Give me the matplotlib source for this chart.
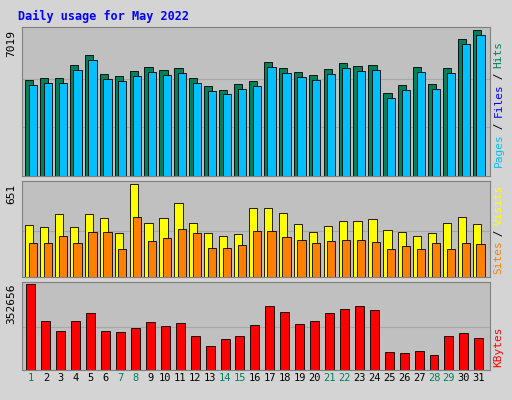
import matplotlib
matplotlib.use("Agg")
import matplotlib.pyplot as plt
import numpy as np

days = list(range(1, 32))
weekend = [1, 7, 8, 14, 15, 21, 22, 28, 29]
hits = [4632,4727,4727,5348,5825,4918,4823,5061,5252,5109,5205,4727,4345,4154,4441,4584,
        5491,5205,5013,4870,5157,5443,5300,5348,4011,4393,5252,4441,5205,6589,7019]
files = [4390,4490,4490,5110,5590,4680,4590,4820,5010,4870,4960,4490,4110,3920,4200,4350,
         5250,4960,4770,4630,4910,5200,5060,5110,3770,4150,5010,4200,4960,6350,6780]
visits = [364,350,441,350,441,413,308,651,378,413,518,378,308,287,301,483,483,448,371,315,
          357,392,392,406,329,315,287,308,378,420,371]
sites = [238,238,287,238,315,315,196,420,252,273,336,308,203,203,224,322,322,280,259,238,
         252,259,259,245,196,217,196,238,196,238,231]
kbytes = [352656,200950,159940,200950,233760,159940,155840,172240,196850,180440,192750,139430,
          98420,127130,139430,184550,262460,237860,188650,200950,233760,250160,262460,246060,
          73820,69720,77920,61520,139430,151740,131230]

fig = plt.figure(figsize=(5.12, 4.0), dpi=100)
fig.patch.set_facecolor('#D4D4D4')
x = np.array(days)
mono = 'DejaVu Sans Mono'

def setup(ax, ymax, label_max, lines):
    ax.set_facecolor('#C0C0C0')
    ax.set_xlim(0.4, 31.75)
    ax.set_ylim(0, ymax)
    ax.set_xticks([]); ax.set_yticks([])
    for l in lines:
        ax.axhline(l, color='#A8A8A8', lw=0.8, zorder=0)
    ax.text(-0.012, label_max / ymax, str(label_max), transform=ax.transAxes, rotation=90,
            ha='right', va='top', fontsize=8, family=mono)
    for s in ax.spines.values():
        s.set_color('#808080')

ax1 = fig.add_axes([0.043, 0.56, 0.914, 0.3725])
ymax1 = 7019 * 149 / 146
setup(ax1, ymax1, 7019, [7019 / 3, 7019 * 2 / 3])
ax1.bar(x - 0.12, hits, width=0.55, color='#00805C', edgecolor='black', lw=0.6)
ax1.bar(x + 0.12, files, width=0.55, color='#00C0FF', edgecolor='black', lw=0.6)

ax2 = fig.add_axes([0.043, 0.3075, 0.914, 0.24])
ymax2 = 651 * 96 / 93
setup(ax2, ymax2, 651, [651 / 2])
ax2.bar(x - 0.12, visits, width=0.55, color='#FFFF00', edgecolor='black', lw=0.6)
ax2.bar(x + 0.12, sites, width=0.55, color='#FF8000', edgecolor='black', lw=0.6)

ax3 = fig.add_axes([0.043, 0.075, 0.914, 0.22])
ymax3 = 352656 * 88 / 86
setup(ax3, ymax3, 352656, [352656 / 2])
ax3.bar(x, kbytes, width=0.6, color='#FF0000', edgecolor='black', lw=0.6)

for d in days:
    ax3.text(d, -0.03, str(d), transform=ax3.get_xaxis_transform(), ha='center', va='top',
             fontsize=7.5, family=mono, color='#00805C' if d in weekend else 'black')

def side(ax, parts, y0):
    y = y0
    hpx = ax.get_position().height * 400
    for t, c in parts:
        ax.text(1.008, y, t, transform=ax.transAxes, rotation=90, ha='left', va='bottom',
                fontsize=8, family=mono, color=c)
        y += len(t) * 6.2 / hpx

side(ax1, [('Pages', '#00C0FF'), (' / ', 'black'), ('Files', '#0000FF'), (' / ', 'black'), ('Hits', '#00805C')], 0.06)
side(ax2, [('Sites', '#FF8000'), (' / ', 'black'), ('Visits', '#FFFF00')], 0.03)
side(ax3, [('KBytes', '#FF0000')], 0.03)

fig.text(0.035, 0.975, 'Daily usage for May 2022', color='#0000FF', fontsize=8.5,
         fontweight='bold', family=mono, va='top')
fig.savefig('out.png', dpi=100, facecolor=fig.get_facecolor())
